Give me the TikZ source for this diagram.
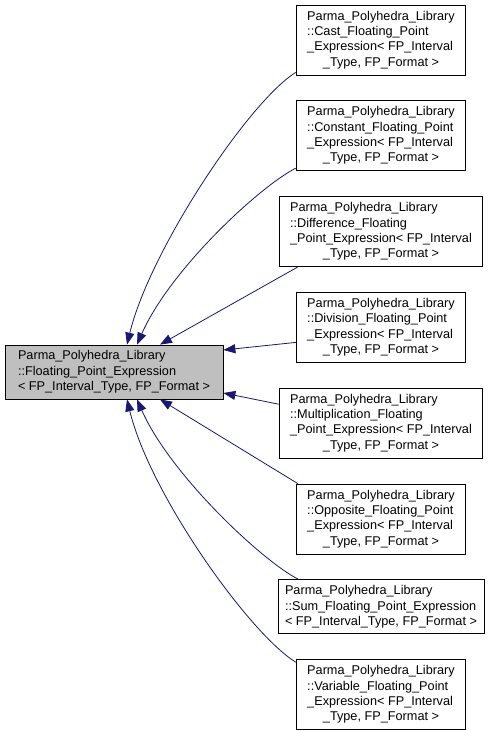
\documentclass[tikz,border=0pt]{standalone}
\usepackage{fontspec}
\setmainfont{Liberation Sans}
\usetikzlibrary{positioning, arrows.meta}
\definecolor{edgeblue}{RGB}{25,25,112}
\newcommand{\clsname}[4]{\begin{tabular}{@{}l@{}}#1\\#2\\#3\\\multicolumn{1}{@{}c@{}}{#4}\end{tabular}}

\begin{document}
\begin{tikzpicture}[x=1pt, y=1pt, c/.style={draw, line width=0.8pt, minimum height=70pt, inner xsep=11pt, inner ysep=0pt, font=\fontsize{12.7}{15.3}\selectfont}, s/.style={c, fill=black!25, minimum height=54pt, align=left, inner xsep=13pt}, e/.style={draw=edgeblue, line width=0.8pt, -{Triangle[length=12pt, width=9pt]}}, node distance=25pt]
		\useasboundingbox[fill=white] (0,0) rectangle (496,-731);
		\node (base) [s] at (114,-372) {Parma\_Polyhedra\_Library\\::Floating\_Point\_Expression\\< FP\_Interval\_Type, FP\_Format >};
		\node (cast) [c] at (381,-40) {\clsname{Parma\_Polyhedra\_Library}{::Cast\_Floating\_Point}{\_Expression< FP\_Interval}{\_Type, FP\_Format >}};
		\node (const) [c, below=of cast] {\clsname{Parma\_Polyhedra\_Library}{::Constant\_Floating\_Point}{\_Expression< FP\_Interval}{\_Type, FP\_Format >}};
		\node (diff) [c, below=of const] {\clsname{Parma\_Polyhedra\_Library}{::Difference\_Floating}{\_Point\_Expression< FP\_Interval}{\_Type, FP\_Format >}};
		\node (div) [c, below=of diff] {\clsname{Parma\_Polyhedra\_Library}{::Division\_Floating\_Point}{\_Expression< FP\_Interval}{\_Type, FP\_Format >}};
		\node (mult) [c, below=of div] {\clsname{Parma\_Polyhedra\_Library}{::Multiplication\_Floating}{\_Point\_Expression< FP\_Interval}{\_Type, FP\_Format >}};
		\node (opp) [c, below=of mult] {\clsname{Parma\_Polyhedra\_Library}{::Opposite\_Floating\_Point}{\_Expression< FP\_Interval}{\_Type, FP\_Format >}};
		\node (sum) [c, below=of opp, minimum height=54pt, align=left, inner xsep=7pt] {Parma\_Polyhedra\_Library\\::Sum\_Floating\_Point\_Expression\\< FP\_Interval\_Type, FP\_Format >};
		\node (var) [c, below=of sum] {\clsname{Parma\_Polyhedra\_Library}{::Variable\_Floating\_Point}{\_Expression< FP\_Interval}{\_Type, FP\_Format >}};
		\draw[e] ([yshift=3pt]cast.south west) .. controls +(-46,-28) and +(23,95) .. ([xshift=13pt]base.north);
		\draw[e] ([yshift=3pt]const.south west) .. controls +(-36,-18) and +(33,75) .. ([xshift=23pt]base.north);
		\draw[e] ([xshift=19pt]diff.south west) -- ([xshift=46pt]base.north);
		\draw[e] ([yshift=-15pt]div.west) -- ([yshift=22pt]base.east);
		\draw[e] ([yshift=19pt]mult.west) -- ([yshift=-21pt]base.east);
		\draw[e] ([xshift=2pt]opp.north west) -- ([xshift=46pt]base.south);
		\draw[e] ([xshift=21pt]sum.north west) .. controls +(-36,18) and +(33,-75) .. ([xshift=23pt]base.south);
		\draw[e] ([yshift=-3pt]var.north west) .. controls +(-46,28) and +(23,-95) .. ([xshift=13pt]base.south);
\end{tikzpicture}
\end{document}
